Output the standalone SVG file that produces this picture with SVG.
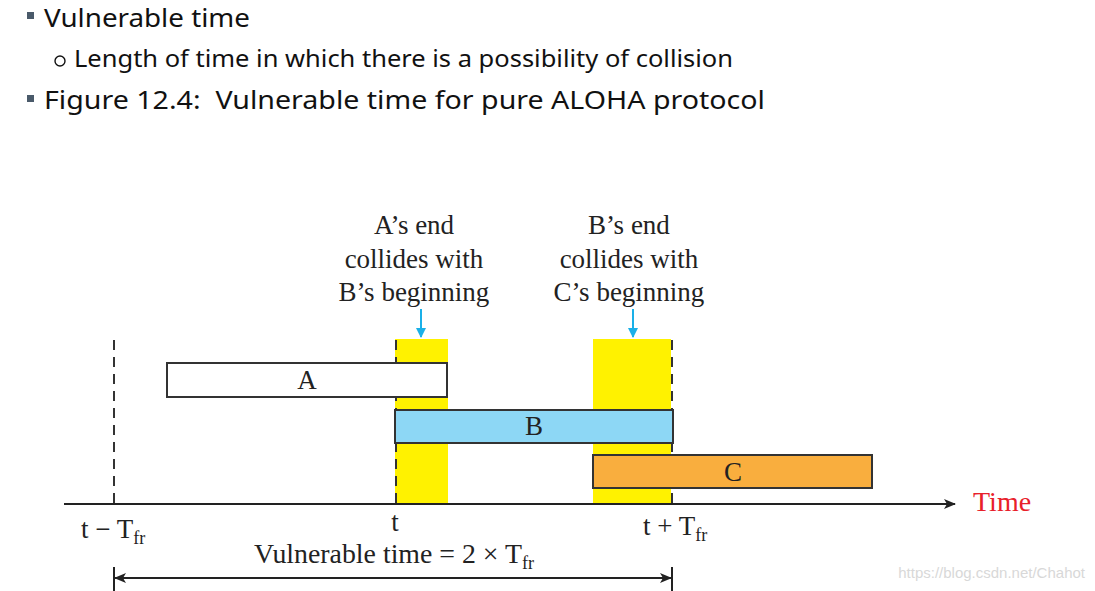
<svg xmlns="http://www.w3.org/2000/svg" width="1095" height="591" viewBox="0 0 1095 591">
<style>
.hd{font-family:"Noto Sans","Liberation Sans",sans-serif;fill:#111}
.tm{font-family:"Liberation Serif","Times New Roman",serif;font-size:27px;fill:#222}
.sub{font-family:"Liberation Serif","Times New Roman",serif;font-size:18px;fill:#222}
.box{stroke:#333;stroke-width:2}
.dash{stroke:#333;stroke-width:2;stroke-dasharray:10,7;fill:none}
.ax{stroke:#222;stroke-width:2;fill:none}
.blue{stroke:#1ab0e8;stroke-width:2;fill:none}
</style>
<defs>
<marker id="ah" viewBox="0 0 12 10" refX="11" refY="5" markerWidth="12" markerHeight="10" markerUnits="userSpaceOnUse" orient="auto-start-reverse">
<path d="M0,0 L12,5 L0,10 L3,5 Z" fill="#222"/>
</marker>
<marker id="bh" viewBox="0 0 10 10" refX="9" refY="5" markerWidth="10" markerHeight="10" markerUnits="userSpaceOnUse" orient="auto">
<path d="M0,0 L10,5 L0,10 Z" fill="#1ab0e8"/>
</marker>
</defs>
<rect width="1095" height="591" fill="#fff"/>
<g id="header">
<rect x="27" y="12" width="7" height="7" fill="#4a5a6a"/>
<text class="hd" x="44" y="27" font-size="26" textLength="206" lengthAdjust="spacingAndGlyphs">Vulnerable time</text>
<circle cx="60" cy="61" r="5" fill="none" stroke="#111" stroke-width="1.4"/>
<text class="hd" x="74" y="67" font-size="24" textLength="659" lengthAdjust="spacingAndGlyphs">Length of time in which there is a possibility of collision</text>
<rect x="27" y="95" width="7" height="7" fill="#4a5a6a"/>
<text class="hd" x="44" y="109" font-size="26" textLength="721" lengthAdjust="spacingAndGlyphs" xml:space="preserve">Figure 12.4:  Vulnerable time for pure ALOHA protocol</text>
</g>
<g id="collision-zones">
<rect id="zone1" x="395" y="339" width="53" height="165" fill="#fff200"/>
<rect id="zone2" x="593" y="339" width="78" height="165" fill="#fff200"/>
</g>
<g id="connectors">
<line class="dash" x1="114" y1="340" x2="114" y2="504"/>
<line class="dash" x1="396" y1="340" x2="396" y2="504"/>
<line class="dash" x1="672" y1="340" x2="672" y2="504"/>
<line class="ax" x1="64" y1="504" x2="955" y2="504" marker-end="url(#ah)"/>
<line class="blue" x1="421" y1="309" x2="421" y2="337" marker-end="url(#bh)"/>
<line class="blue" x1="633" y1="309" x2="633" y2="337" marker-end="url(#bh)"/>
<line class="ax" x1="114" y1="567" x2="114" y2="591"/>
<line class="ax" x1="672" y1="567" x2="672" y2="591"/>
<line class="ax" x1="115" y1="578" x2="671" y2="578" marker-start="url(#ah)" marker-end="url(#ah)"/>
</g>
<g id="frameA">
<rect class="box" x="167" y="363" width="280" height="34" fill="#fff"/>
<text class="tm" x="307" y="389" text-anchor="middle">A</text>
</g>
<g id="frameB">
<rect class="box" x="395" y="410" width="278" height="33" fill="#8dd7f5"/>
<text class="tm" x="534" y="435" text-anchor="middle">B</text>
</g>
<g id="frameC">
<rect class="box" x="593" y="455" width="279" height="33" fill="#f9ae3e"/>
<text class="tm" x="733" y="481" text-anchor="middle">C</text>
</g>
<g id="label-collision1">
<text class="tm" x="414" y="234" text-anchor="middle">A’s end</text>
<text class="tm" x="414" y="268" text-anchor="middle">collides with</text>
<text class="tm" x="414" y="301" text-anchor="middle">B’s beginning</text>
</g>
<g id="label-collision2">
<text class="tm" x="629" y="234" text-anchor="middle">B’s end</text>
<text class="tm" x="629" y="268" text-anchor="middle">collides with</text>
<text class="tm" x="629" y="301" text-anchor="middle">C’s beginning</text>
</g>
<g id="axis-labels">
<text class="tm" x="81" y="538">t − T<tspan class="sub" dy="6">fr</tspan></text>
<text class="tm" x="395" y="531" text-anchor="middle">t</text>
<text class="tm" x="643" y="535">t + T<tspan class="sub" dy="6">fr</tspan></text>
<text class="tm" x="254" y="563" textLength="268" lengthAdjust="spacingAndGlyphs">Vulnerable time = 2 × T</text>
<text class="sub" x="522" y="569">fr</text>
<text x="973" y="511" font-family="Liberation Serif,serif" font-size="28" fill="#e8202a">Time</text>
</g>
<text x="1085" y="578" text-anchor="end" font-family="Liberation Sans,sans-serif" font-size="15" fill="#d8d8d8">https://blog.csdn.net/Chahot</text>
</svg>
